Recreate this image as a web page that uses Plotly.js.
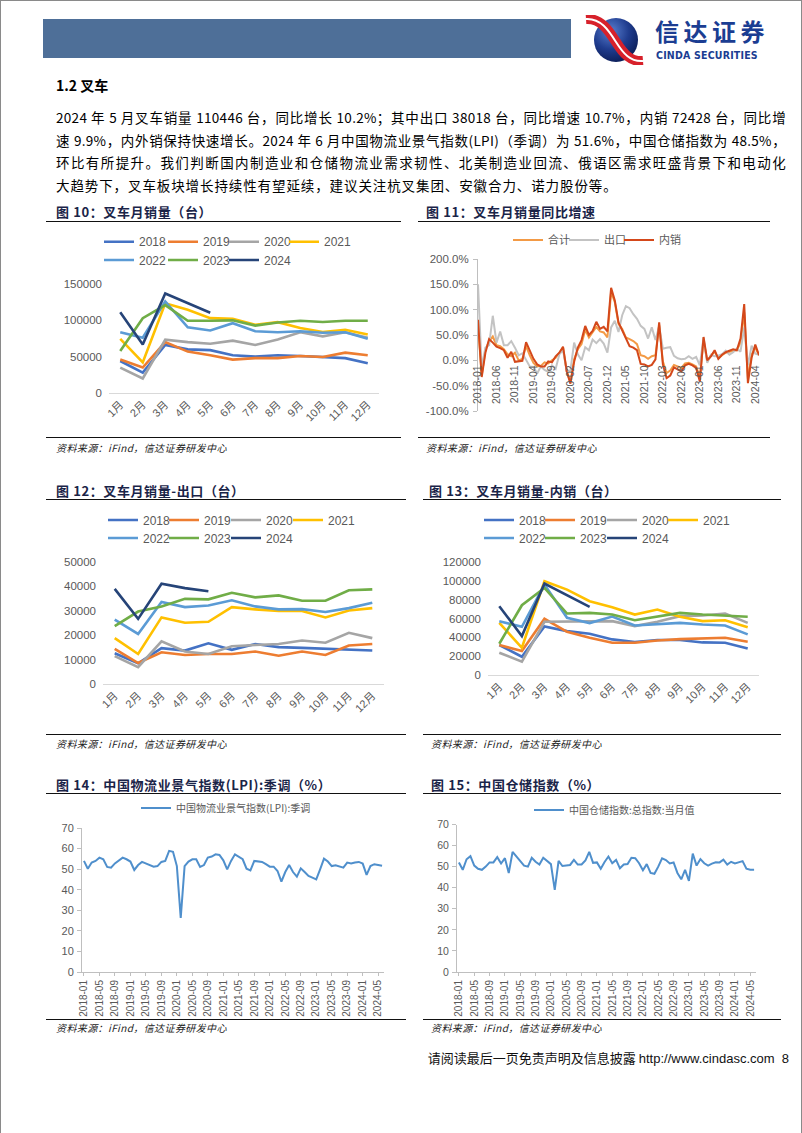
<!DOCTYPE html>
<html><head><meta charset="utf-8">
<script src="https://cdn.plot.ly/plotly-3.0.1.min.js"></script>
<style>
body{margin:0;background:#fff;}
#page{position:relative;width:802px;height:1133px;overflow:hidden;background:#fff;font-family:"Noto Sans CJK SC",sans-serif;color:#000;box-sizing:border-box;border-left:1px solid #8a8a8a;border-right:1px solid #8a8a8a;border-top:1px solid #8a8a8a;}
.abs{position:absolute;white-space:nowrap;}
.para{left:55px;width:730px;font-size:13.5px;line-height:20px;text-align:justify;text-align-last:justify;letter-spacing:0.3px;}
.ttl{font-size:13px;font-weight:bold;line-height:20px;color:#1a2448;letter-spacing:0.6px;}
.rule{height:0;border-top:1.5px solid #111;}
.src{font-size:10px;font-style:italic;line-height:14px;color:#222;letter-spacing:0.4px;}
.chart{position:absolute;}
</style>
</head>
<body>
<div id="page">
  <div class="abs" style="left:42px;top:18px;width:528px;height:39px;background:#4E6F98;"></div>
  <svg class="abs" style="left:582px;top:14px;" width="66" height="50" viewBox="0 0 66 50">
    <defs>
      <radialGradient id="lg" cx="38%" cy="30%" r="75%">
        <stop offset="0" stop-color="#5a7fcf"/>
        <stop offset="0.55" stop-color="#1f3c8e"/>
        <stop offset="1" stop-color="#0b1c55"/>
      </radialGradient>
    </defs>
    <circle cx="33" cy="25" r="22" fill="url(#lg)"/>
    <path d="M3,4 C18,3 26,16 33,27 C40,38 47,47 60,46" stroke="#d7212b" stroke-width="10" fill="none"/>
    <path d="M3,4 C18,3 26,16 33,27 C40,38 47,47 60,46" stroke="#ffffff" stroke-width="2" fill="none"/>
  </svg>
  <div class="abs" style="left:654px;top:18px;font-size:24px;font-weight:bold;color:#1B3D92;letter-spacing:4.5px;line-height:24px;">信达证券</div>
  <div class="abs" style="left:655px;top:49px;font-family:'Liberation Sans Narrow','DejaVu Sans Condensed','Liberation Sans',sans-serif;font-weight:bold;font-size:10.5px;line-height:11px;color:#1B3D92;letter-spacing:0.2px;">CINDA SECURITIES</div>

  <div class="abs" style="left:55px;top:74px;font-size:14px;font-weight:bold;line-height:20px;">1.2 叉车</div>
  <div class="abs para" style="top:106px;">2024 年 5 月叉车销量 110446 台，同比增长 10.2%；其中出口 38018 台，同比增速 10.7%，内销 72428 台，同比增</div>
  <div class="abs para" style="top:129px;">速 9.9%，内外销保持快速增长。2024 年 6 月中国物流业景气指数(LPI)（季调）为 51.6%，中国仓储指数为 48.5%，</div>
  <div class="abs para" style="top:151px;">环比有所提升。我们判断国内制造业和仓储物流业需求韧性、北美制造业回流、俄语区需求旺盛背景下和电动化</div>
  <div class="abs para" style="top:174px;text-align:left;text-align-last:left;letter-spacing:0.9px;width:auto;">大趋势下，叉车板块增长持续性有望延续，建议关注杭叉集团、安徽合力、诺力股份等。</div>

  <div class="abs ttl" style="left:55px;top:201px;">图 10：叉车月销量（台）</div>
  <div class="abs rule" style="left:45px;top:220px;width:355px;"></div>
  <div class="abs ttl" style="left:425px;top:201px;">图 11：叉车月销量同比增速</div>
  <div class="abs rule" style="left:417px;top:220px;width:352px;"></div>

  <div class="abs rule" style="left:45px;top:436px;width:355px;"></div>
  <div class="abs src" style="left:55px;top:440px;">资料来源：iFind，信达证券研发中心</div>
  <div class="abs rule" style="left:417px;top:436px;width:352px;"></div>
  <div class="abs src" style="left:425px;top:440px;">资料来源：iFind，信达证券研发中心</div>

  <div class="abs ttl" style="left:55px;top:480px;">图 12：叉车月销量-出口（台）</div>
  <div class="abs rule" style="left:45px;top:498px;width:360px;"></div>
  <div class="abs ttl" style="left:428px;top:480px;">图 13：叉车月销量-内销（台）</div>
  <div class="abs rule" style="left:422px;top:498px;width:358px;"></div>

  <div class="abs rule" style="left:45px;top:733px;width:360px;"></div>
  <div class="abs src" style="left:55px;top:736px;">资料来源：iFind，信达证券研发中心</div>
  <div class="abs rule" style="left:422px;top:733px;width:358px;"></div>
  <div class="abs src" style="left:430px;top:736px;">资料来源：iFind，信达证券研发中心</div>

  <div class="abs ttl" style="left:55px;top:774px;">图 14：中国物流业景气指数(LPI):季调（%）</div>
  <div class="abs rule" style="left:45px;top:792px;width:360px;"></div>
  <div class="abs ttl" style="left:430px;top:774px;">图 15：中国仓储指数（%）</div>
  <div class="abs rule" style="left:422px;top:792px;width:358px;"></div>

  <div class="abs rule" style="left:45px;top:1018px;width:360px;"></div>
  <div class="abs src" style="left:55px;top:1020px;">资料来源：iFind，信达证券研发中心</div>
  <div class="abs rule" style="left:422px;top:1018px;width:358px;"></div>
  <div class="abs src" style="left:430px;top:1020px;">资料来源：iFind，信达证券研发中心</div>

  <div class="abs" style="right:12px;top:1048px;font-size:13px;line-height:18px;color:#111;">请阅读最后一页免责声明及信息披露 <span style="font-family:'Liberation Sans',sans-serif;">http://www.cindasc.com&nbsp;&nbsp;8</span></div>

  <div id="c10" class="chart" style="left:40px;top:225px;width:370px;height:210px;"></div>
  <div id="c11" class="chart" style="left:415px;top:225px;width:385px;height:210px;"></div>
  <div id="c12" class="chart" style="left:40px;top:505px;width:370px;height:225px;"></div>
  <div id="c13" class="chart" style="left:415px;top:505px;width:385px;height:225px;"></div>
  <div id="c14" class="chart" style="left:40px;top:795px;width:375px;height:222px;"></div>
  <div id="c15" class="chart" style="left:415px;top:795px;width:385px;height:222px;"></div>
</div>

<script>
// ---------------- data ----------------
const monthLabels = ['1月','2月','3月','4月','5月','6月','7月','8月','9月','10月','11月','12月'];
const years = ['2018','2019','2020','2021','2022','2023','2024'];

// 图10 叉车月销量（台）
const sales2018 = [44000, 28000, 66000, 60000, 59000, 52000, 50000, 52000, 51000, 49000, 48000, 41000];
const sales2019 = [46000, 35000, 70000, 57000, 52000, 46000, 48000, 48000, 51000, 49500, 55500, 52000];
const sales2020 = [35000, 20000, 73500, 70000, 67700, 72000, 66000, 73500, 83500, 78000, 83500, 76000];
const sales2021 = [74500, 42000, 123500, 114500, 103000, 102000, 94000, 97500, 89500, 84000, 87000, 80500];
const sales2022 = [83500, 76000, 126000, 90500, 86000, 96000, 85000, 83500, 85000, 83000, 83500, 74500];
const sales2023 = [57700, 103000, 121000, 99500, 99500, 100000, 92700, 97000, 99500, 97700, 99500, 99500];
const sales2024 = [111000, 66800, 137000, 123600, 110446];

// 图12 出口（台）
const export2018 = [12600, 8500, 14700, 13700, 16700, 14000, 16400, 15100, 14800, 14400, 14100, 13700];
const export2019 = [14400, 8600, 13000, 11900, 12300, 12300, 13300, 11600, 13300, 11900, 15800, 16400];
const export2020 = [11400, 6900, 17500, 13300, 12300, 15500, 16000, 16400, 17800, 16900, 21000, 18800];
const export2021 = [18800, 12300, 27300, 25100, 25500, 31500, 30600, 29900, 29900, 27300, 30100, 31100];
const export2022 = [26400, 20500, 33600, 31500, 32200, 34300, 31800, 30600, 30700, 29500, 31100, 33300];
const export2023 = [23700, 29700, 31800, 34900, 34700, 37400, 35500, 36300, 34100, 34100, 38400, 38800];
const export2024 = [39000, 26700, 41100, 39300, 38018];

// 图13 内销（台）
const dom2018 = [31800, 19400, 51500, 46600, 43800, 37800, 35000, 37100, 37100, 34600, 34200, 28200];
const dom2019 = [31800, 25400, 59700, 45900, 39500, 34200, 34200, 36700, 38100, 38800, 39500, 35300];
const dom2020 = [23700, 14100, 56500, 56500, 56500, 57200, 51900, 56500, 62500, 63200, 65300, 55400];
const dom2021 = [55400, 28900, 99500, 90700, 78400, 72000, 64200, 69500, 61800, 57200, 58200, 50800];
const dom2022 = [57200, 51200, 96000, 60700, 55100, 62100, 52600, 53700, 55400, 53700, 52600, 43100];
const dom2023 = [33200, 74100, 92500, 65300, 66000, 64200, 58200, 62100, 66000, 64200, 63200, 61800];
const dom2024 = [73100, 41300, 97100, 84700, 72428];

// 图11 同比增速（%），2018-01 ~ 2024-05
const yoyMonths = ['2018-01','2018-02','2018-03','2018-04','2018-05','2018-06','2018-07','2018-08','2018-09','2018-10','2018-11','2018-12',
 '2019-01','2019-02','2019-03','2019-04','2019-05','2019-06','2019-07','2019-08','2019-09','2019-10','2019-11','2019-12',
 '2020-01','2020-02','2020-03','2020-04','2020-05','2020-06','2020-07','2020-08','2020-09','2020-10','2020-11','2020-12',
 '2021-01','2021-02','2021-03','2021-04','2021-05','2021-06','2021-07','2021-08','2021-09','2021-10','2021-11','2021-12',
 '2022-01','2022-02','2022-03','2022-04','2022-05','2022-06','2022-07','2022-08','2022-09','2022-10','2022-11','2022-12',
 '2023-01','2023-02','2023-03','2023-04','2023-05','2023-06','2023-07','2023-08','2023-09','2023-10','2023-11','2023-12',
 '2024-01','2024-02','2024-03','2024-04','2024-05'];
const yoyTotal = [70,-30,20,38,47,30,28,22,12,8,15,0,
 3,28,10,-5,-12,-11,-4,-6,0,5,15,25,
 -22,-43,2,22,32,60,45,55,66,57,55,45,
 135,115,72,62,45,42,38,32,10,8,3,8,
 10,70,-2,-25,-20,-9,-12,-15,-6,-5,-8,-12,
 -33,40,-2,10,17,4,10,15,17,18,20,35,
 95,-36,12,25,10];
const yoyExport = [150,-15,25,30,88,35,57,30,30,38,25,10,
 14,1,-12,-13,-26,-12,-19,-23,-10,-17,12,20,
 -21,-20,35,12,0,26,20,41,34,42,33,15,
 65,78,56,89,107,103,91,82,68,62,43,65,
 40,67,23,25,26,9,4,2,3,8,3,7,
 -10,45,-5,11,8,9,12,19,11,16,23,17,
 65,-10,29,13,11];
const yoyDomestic = [80,-33,15,42,35,27,24,20,5,17,-3,-2,
 -1,36,18,3,-8,-12,-12,-2,-4,8,15,27,
 -22,-46,-3,25,40,68,50,58,76,62,66,57,
 143,118,75,60,42,28,25,20,-7,-8,-12,-9,
 2,75,-8,-35,-30,-14,-18,-22,-10,-7,-10,-15,
 -42,46,0,8,20,3,11,16,19,22,20,43,
 111,-45,5,31,10];
const yoyTickVals = ['2018-01','2018-06','2018-11','2019-04','2019-09','2020-02','2020-07','2020-12','2021-05','2021-10','2022-03','2022-08','2023-01','2023-06','2023-11','2024-04'];
const yoyAxisVals = [200,150,100,50,0,-50,-100];
const yoyAxisText = ['200.0%','150.0%','100.0%','50.0%','0.0%','-50.0%','-100.0%'];

// 图14/15 2018-01 ~ 2024-06
const idxMonths = yoyMonths.concat(['2024-06']);
const lpi = [54.0,50.2,53.2,54.0,55.6,54.8,51.1,50.7,52.8,54.1,55.6,54.8,
 53.7,49.6,52.0,53.5,52.8,52.0,51.2,51.5,53.5,54.0,58.9,58.4,
 51.5,26.3,51.5,53.7,54.8,54.8,51.1,52.0,55.6,56.1,57.2,56.9,
 54.3,49.9,54.0,57.2,56.1,54.8,50.2,49.4,54.0,53.7,53.5,52.4,
 51.2,51.2,49.1,43.9,48.6,52.0,48.6,46.3,50.4,48.6,46.7,45.9,
 45.0,49.9,55.1,53.7,51.5,51.9,51.2,50.7,53.2,52.8,53.2,53.5,
 52.7,47.2,51.5,52.4,52.0,51.6];
const storage = [52,48.5,53.5,55,50.5,49,48.5,50,52,52,54.5,51.5,
 54,47,57,55,53,50.5,50,54.2,52.3,51,54.2,52.8,
 51.2,39,52.7,50.3,50.5,50.8,53.2,51,51,53,57,51.8,
 52,49,52.2,54.8,51.6,53.2,49.2,51,51.2,54.2,54,51.6,
 48.3,51.2,47,46.6,50,53.9,53.1,51.5,52,47,44,48.5,
 43.2,56.2,50.5,53.6,51.6,50.5,51.4,52.1,52,53.3,51,52.3,
 51.5,52,52.6,49,48.5,48.5];
const idxTickVals = idxMonths.filter((m, i) => i % 4 === 0);

const yearColors = ['#4472C4','#ED7D31','#A5A5A5','#FFC000','#5B9BD5','#70AD47','#264478'];

// ---------------- helpers ----------------
const FONT = '"Liberation Sans", Arial, "Noto Sans CJK SC", sans-serif';
const CJK = '"Noto Sans CJK SC", "Liberation Sans", sans-serif';
const GRAY = '#595959';
const cfg = {staticPlot: true, displayModeBar: false};

function legendDef(xPx, yPx, W, H, size, fam) {
  return {xref: 'container', yref: 'container', x: xPx / W, y: 1 - yPx / H,
    xanchor: 'left', yanchor: 'middle', orientation: 'h', bgcolor: 'rgba(0,0,0,0)',
    borderwidth: 0, font: {family: fam || FONT, size: size, color: GRAY}, itemwidth: 30, tracegroupgap: 0};
}
function legendKey(i) { return i === 0 ? 'legend' : 'legend' + (i + 1); }

function yearChart(id, W, H, margin, series, yMax, yDtick, legendPos) {
  const traces = series.map((arr, i) => ({
    x: monthLabels.slice(0, arr.length), y: arr, type: 'scatter', mode: 'lines', name: years[i],
    line: {color: yearColors[i], width: 2.6}, legend: legendKey(i), hoverinfo: 'skip'
  }));
  const layout = {
    width: W, height: H, margin: margin, paper_bgcolor: 'rgba(0,0,0,0)', plot_bgcolor: 'rgba(0,0,0,0)',
    showlegend: true,
    xaxis: {type: 'category', categoryarray: monthLabels, range: [-0.5, 11.5], showline: true, linecolor: '#D9D9D9',
      linewidth: 1, ticks: '', tickangle: -45, showgrid: false, zeroline: false,
      tickfont: {family: FONT, size: 11, color: GRAY}},
    yaxis: {range: [0, yMax], dtick: yDtick, tick0: 0, tickformat: 'd', showgrid: false, zeroline: false,
      showline: false, ticks: '', ticklabelstandoff: 6, tickfont: {family: FONT, size: 11.5, color: GRAY}}
  };
  legendPos.forEach((p, i) => { layout[legendKey(i)] = legendDef(p[0], p[1], W, H, 12); });
  Plotly.newPlot(id, traces, layout, cfg);
}

// 图10
yearChart('c10', 370, 210, {l: 68, r: 32, t: 58, b: 43},
  [sales2018, sales2019, sales2020, sales2021, sales2022, sales2023, sales2024], 150000, 50000,
  [[58, 15.7], [122, 15.7], [183, 15.7], [243, 15.7], [58, 34], [122, 34], [183, 34]]);

// 图12
yearChart('c12', 370, 225, {l: 62, r: 27, t: 56, b: 47},
  [export2018, export2019, export2020, export2021, export2022, export2023, export2024], 50000, 10000,
  [[62, 14], [123, 14], [185, 14], [247, 14], [62, 32], [123, 32], [185, 32]]);

// 图13
yearChart('c13', 385, 225, {l: 72, r: 42, t: 56, b: 56},
  [dom2018, dom2019, dom2020, dom2021, dom2022, dom2023, dom2024], 120000, 20000,
  [[63, 14], [124, 14], [186, 14], [247, 14], [63, 32], [124, 32], [186, 32]]);

// 图11
(function () {
  const W = 385, H = 210;
  const names = ['合计', '出口', '内销'];
  const cols = ['#F39A45', '#C3C3C3', '#D4481A'];
  const data = [yoyTotal, yoyExport, yoyDomestic];
  const traces = data.map((arr, i) => ({
    x: yoyMonths, y: arr, type: 'scatter', mode: 'lines', name: names[i],
    line: {color: cols[i], width: 2}, legend: legendKey(i), hoverinfo: 'skip'
  }));
  const layout = {
    width: W, height: H, margin: {l: 62, r: 42, t: 33, b: 25},
    paper_bgcolor: 'rgba(0,0,0,0)', plot_bgcolor: 'rgba(0,0,0,0)', showlegend: true,
    xaxis: {type: 'category', categoryarray: yoyMonths, range: [0, 76], anchor: 'free', position: 1 / 3,
      showline: false, ticks: '', tickmode: 'array', tickvals: yoyTickVals, ticktext: yoyTickVals,
      tickangle: -90, showgrid: false, zeroline: false, ticklabelstandoff: 2,
      tickfont: {family: FONT, size: 10.5, color: GRAY}},
    yaxis: {range: [-100, 200], tickmode: 'array', tickvals: yoyAxisVals, ticktext: yoyAxisText,
      showgrid: false, zeroline: false, showline: true, linecolor: '#BFBFBF', linewidth: 1,
      ticks: 'outside', ticklen: 4, tickcolor: '#BFBFBF', ticklabelstandoff: 2,
      tickfont: {family: FONT, size: 11.5, color: GRAY}}
  };
  [[92, 14], [148, 14], [203, 14]].forEach((p, i) => { layout[legendKey(i)] = legendDef(p[0], p[1], W, H, 11, CJK); });
  Plotly.newPlot('c11', traces, layout, cfg);
})();

// 图14 / 图15
function indexChart(id, W, H, margin, arr, name, legendPos, labelSize) {
  const traces = [{x: idxMonths, y: arr, type: 'scatter', mode: 'lines', name: name,
    line: {color: '#4F8FCC', width: 2}, hoverinfo: 'skip'}];
  const layout = {
    width: W, height: H, margin: margin, paper_bgcolor: 'rgba(0,0,0,0)', plot_bgcolor: 'rgba(0,0,0,0)',
    showlegend: true,
    legend: legendDef(legendPos[0], legendPos[1], W, H, 10, CJK),
    xaxis: {type: 'category', categoryarray: idxMonths, range: [-0.5, idxMonths.length - 0.5],
      tickmode: 'array', tickvals: idxTickVals, ticktext: idxTickVals, tickangle: -90,
      showline: true, linecolor: '#BFBFBF', linewidth: 1, ticks: 'outside', ticklen: 3, tickcolor: '#BFBFBF',
      showgrid: false, zeroline: false, tickfont: {family: FONT, size: 10, color: GRAY}},
    yaxis: {range: [0, 70], dtick: 10, tick0: 0, showgrid: false, zeroline: false, showline: true,
      linecolor: '#BFBFBF', linewidth: 1, ticks: 'outside', ticklen: 4, tickcolor: '#BFBFBF',
      ticklabelstandoff: 1, tickfont: {family: FONT, size: labelSize, color: GRAY}}
  };
  Plotly.newPlot(id, traces, layout, cfg);
}
indexChart('c14', 375, 222, {l: 41, r: 32, t: 32, b: 46}, lpi, '中国物流业景气指数(LPI):季调', [95, 12], 11);
indexChart('c15', 385, 222, {l: 41, r: 45, t: 28, b: 46}, storage, '中国仓储指数:总指数:当月值', [113, 14], 10.5);
</script>
</body>
</html>
